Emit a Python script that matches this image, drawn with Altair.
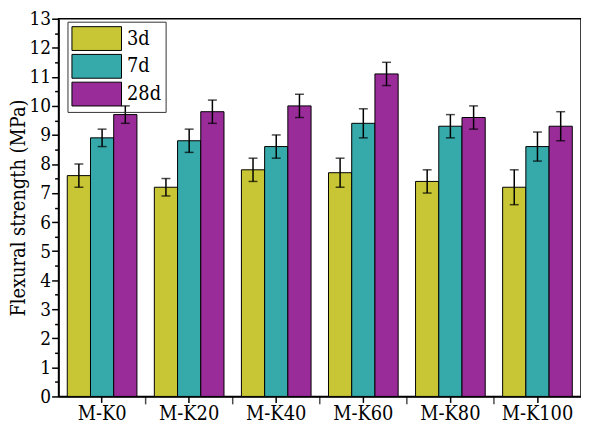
import altair as alt
import pandas as pd

categories = ["M-K0", "M-K20", "M-K40", "M-K60", "M-K80", "M-K100"]
ages = ["3d", "7d", "28d"]
strength_3d = [7.6, 7.2, 7.8, 7.7, 7.4, 7.2]
strength_7d = [8.9, 8.8, 8.6, 9.4, 9.3, 8.6]
strength_28d = [9.7, 9.8, 10.0, 11.1, 9.6, 9.3]
err_3d = [0.4, 0.3, 0.4, 0.5, 0.4, 0.6]
err_7d = [0.3, 0.4, 0.4, 0.5, 0.4, 0.5]
err_28d = [0.3, 0.4, 0.4, 0.4, 0.4, 0.5]
colors = ["#c9c635", "#36a9ab", "#9a2c9a"]
y_ticks = [i / 2 for i in range(0, 27)]

rows = []
for age, vals, errs in zip(ages, [strength_3d, strength_7d, strength_28d], [err_3d, err_7d, err_28d]):
    for c, v, e in zip(categories, vals, errs):
        rows.append({"cat": c, "age": age, "value": v, "lo": v - e, "hi": v + e})
df = pd.DataFrame(rows)
minor_df = pd.DataFrame({"cat": categories[1:]})

FONT = "DejaVu Serif Condensed, DejaVu Serif"

xscale = alt.Scale(domain=categories, paddingInner=0, paddingOuter=0)
xoff_scale = alt.Scale(domain=ages, paddingInner=0, paddingOuter=0.375)
yscale = alt.Scale(domain=[0, 13], nice=False)

x_axis = alt.Axis(title=None, labelFontSize=20, labelAngle=0, tickSize=6,
                  labelPadding=1, tickWidth=1.5, domainWidth=1.5, labelFont=FONT)
y_axis = alt.Axis(title="Flexural strength (MPa)", titleFontSize=20,
                  titleFontWeight="normal", titlePadding=1, titleFont=FONT,
                  values=y_ticks, labelFontSize=19, labelPadding=1,
                  labelFont=FONT, labelOverlap=False,
                  labelExpr="datum.value % 1 === 0 ? format(datum.value, 'd') : ''",
                  tickSize={"condition": {"test": "datum.value % 1 === 0", "value": 7}, "value": 4},
                  tickWidth=1.5, domainWidth=1.5, grid=False)

x_enc = alt.X("cat:N", scale=xscale, sort=categories, axis=x_axis)
xo_enc = alt.XOffset("age:N", scale=xoff_scale, sort=ages)

bars = alt.Chart(df).mark_bar(stroke="black", strokeWidth=1).encode(
    x=x_enc, xOffset=xo_enc,
    y=alt.Y("value:Q", scale=yscale, axis=y_axis),
    color=alt.Color("age:N", sort=ages, scale=alt.Scale(domain=ages, range=colors),
                    legend=alt.Legend(title=None, orient="none", legendX=9, legendY=3,
                                      symbolType="M-1,-0.96H3V0.96H-1Z", symbolSize=625,
                                      symbolStrokeColor="black", symbolStrokeWidth=1,
                                      symbolOpacity=1,
                                      labelFontSize=20, labelOffset=30, rowPadding=0,
                                      strokeColor="#333333", padding=4,
                                      labelFont=FONT)),
)

err_rule = alt.Chart(df).mark_rule(color="black", strokeWidth=1.5).encode(
    x=x_enc, xOffset=xo_enc,
    y=alt.Y("lo:Q", scale=yscale, axis=y_axis), y2="hi:Q",
)
cap_hi = alt.Chart(df).mark_tick(color="black", thickness=1.5, size=9, orient="horizontal").encode(
    x=x_enc, xOffset=xo_enc, y=alt.Y("hi:Q", scale=yscale, axis=y_axis),
)
cap_lo = alt.Chart(df).mark_tick(color="black", thickness=1.5, size=9, orient="horizontal").encode(
    x=x_enc, xOffset=xo_enc, y=alt.Y("lo:Q", scale=yscale, axis=y_axis),
)
minor = alt.Chart(minor_df).mark_tick(color="black", thickness=1.5, size=8, yOffset=4,
                                      orient="vertical").encode(
    x=alt.X("cat:N", scale=xscale, sort=categories, bandPosition=0, axis=x_axis),
    y=alt.Y(datum=0, scale=yscale, axis=y_axis),
)

chart = alt.layer(bars, err_rule, cap_hi, cap_lo, minor).properties(
    width=578, height=418,
    autosize=alt.AutoSizeParams(type="fit", contains="padding"),
    padding={"left": 0, "top": 0, "right": 0, "bottom": 1},
).configure(font=FONT).configure_view(
    stroke="black", strokeWidth=1.5
).configure_axis(
    domainColor="black", tickColor="black", labelColor="black", titleColor="black",
    labelFont=FONT, titleFont=FONT,
).configure_legend(labelColor="black", labelFont=FONT)

chart.save("out.html", embed_options={"renderer": "svg", "actions": False})
